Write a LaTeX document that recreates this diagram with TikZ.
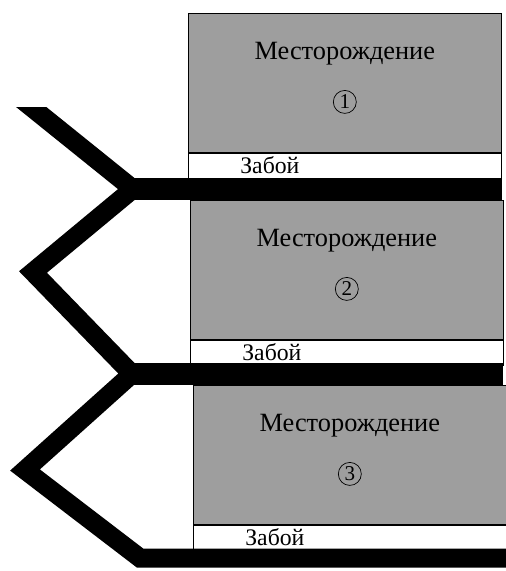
\documentclass[tikz,border=0pt]{standalone}
\usepackage{fontspec}
\setmainfont{Liberation Serif}
\usetikzlibrary{positioning}

\begin{document}
\begin{tikzpicture}[
    x=0.02cm, y=-0.02cm,
    field/.style={
      rectangle, draw, fill=black!38, inner sep=0pt,
      minimum width=6.26cm, minimum height=2.78cm
    },
    face/.style={
      rectangle, draw, fill=white, inner sep=0pt,
      minimum width=6.26cm, minimum height=0.5cm
    },
    title/.style={inner sep=0pt, font=\fontsize{15}{17}\selectfont},
    num/.style={circle, draw, inner sep=0pt, minimum size=0.46cm, font=\fontsize{12}{14}\selectfont},
    facelabel/.style={inner sep=0pt, font=\fontsize{13.5}{15}\selectfont},
    shaft/.style={line width=0.38cm, line join=miter, miter limit=20},
    drift/.style={line width=0.44cm}
  ]
  \useasboundingbox (0,0) rectangle (506,571);
  \node[field, anchor=north west] (field1) at (188,13) {};
  \node[face, below=0pt of field1.south west, anchor=north west] (face1) {};
  \node[title, below=0.57cm of field1.north] (title1) {Месторождение};
  \node[num, below=0.5cm of title1] (num1) {1};
  \node[facelabel, right=1.04cm of face1.west] (lab1) {Забой};
  \node[field, anchor=north west] (field2) at (190,200) {};
  \node[face, below=0pt of field2.south west, anchor=north west] (face2) {};
  \node[title, below=0.57cm of field2.north] (title2) {Месторождение};
  \node[num, below=0.5cm of title2] (num2) {2};
  \node[facelabel, right=1.04cm of face2.west] (lab2) {Забой};
  \node[field, anchor=north west] (field3) at (193,385) {};
  \node[face, below=0pt of field3.south west, anchor=north west] (face3) {};
  \node[title, below=0.57cm of field3.north] (title3) {Месторождение};
  \node[num, below=0.5cm of title3] (num3) {3};
  \node[facelabel, right=1.04cm of face3.west] (lab3) {Забой};
  \coordinate (top) at (20,98);
  \coordinate (j1) at (133,189);
  \coordinate (t1) at (33,272);
  \coordinate (j2) at (132,374);
  \coordinate (t2) at (25,470);
  \coordinate (j3) at (140,558);
  \coordinate (e1) at (502,189);
  \coordinate (e2) at (503,374);
  \coordinate (e3) at (506,558);
  \begin{scope}
    \clip (0,108) rectangle (506,571);
    \draw[shaft] (top) -- (j1) -- (t1) -- (j2) -- (t2) -- (j3) -- (e3);
  \end{scope}
  \draw[drift] (j1) -- (e1);
  \draw[drift] (j2) -- (e2);
\end{tikzpicture}
\end{document}
